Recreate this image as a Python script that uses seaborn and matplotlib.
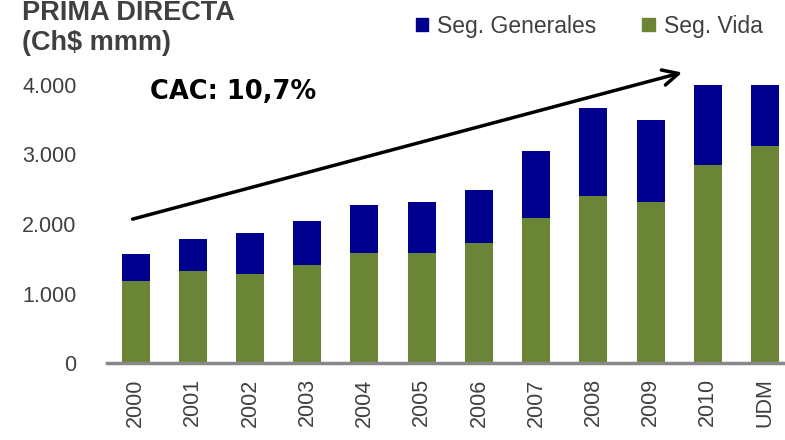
import matplotlib
matplotlib.use('Agg')
import matplotlib.pyplot as plt
import seaborn as sns
import numpy as np
from matplotlib.patches import Patch
from matplotlib.ticker import FuncFormatter

# Data (Ch$ mmm)
years = ['2000', '2001', '2002', '2003', '2004', '2005', '2006',
         '2007', '2008', '2009', '2010', 'UDM']
seg_vida = [1180, 1320, 1280, 1410, 1580, 1580, 1730, 2090, 2400, 2320, 2850, 3120]
seg_generales = [390, 465, 590, 635, 690, 735, 760, 960, 1270, 1180, 1150, 880]

blue = '#00008F'
green = '#6B8536'
text_gray = '#404040'

sns.set_theme(style='white')
plt.rcParams['font.family'] = ['Liberation Sans', 'DejaVu Sans']

fig = plt.figure(figsize=(7.85, 4.4), dpi=100)
ax = fig.add_axes([107 / 785, 77 / 440, 678 / 785, 278 / 440])

totals = np.array(seg_vida) + np.array(seg_generales)

# Stacked bars: total in blue, Vida drawn over it in green
sns.barplot(x=years, y=totals, color=blue, width=0.49, saturation=1,
            linewidth=0, ax=ax)
sns.barplot(x=years, y=seg_vida, color=green, width=0.49, saturation=1,
            linewidth=0, ax=ax)

ax.set_xlim(-0.5, 11.35)
ax.set_ylim(0, 4000)
ax.set_yticks([0, 1000, 2000, 3000, 4000])
ax.yaxis.set_major_formatter(FuncFormatter(lambda v, p: f'{int(v):,}'.replace(',', '.')))
ax.tick_params(axis='y', labelsize=15.5, colors=text_gray, length=0, pad=22)
ax.tick_params(axis='x', labelsize=15.5, colors=text_gray, length=0, pad=11,
               labelrotation=90)
ax.set_xlabel('')
ax.set_ylabel('')

for side in ['top', 'right', 'left']:
    ax.spines[side].set_visible(False)
ax.spines['bottom'].set_color('#888888')
ax.spines['bottom'].set_linewidth(2.5)

# Growth arrow and CAC label
ax.annotate('', xy=(9.6, 4190), xytext=(-0.1, 2060),
            arrowprops=dict(arrowstyle='->', color='black', lw=2.5,
                            mutation_scale=28),
            annotation_clip=False)
ax.text(0.25, 3900, 'CAC: 10,7%', fontsize=18.5, fontweight='bold', color='black',
        family='DejaVu Sans', va='center', ha='left')

# Title
fig.text(22 / 785, 1 - 50 / 440, 'PRIMA DIRECTA\n(Ch$ mmm)', fontsize=19.5,
         fontweight='bold', color=text_gray, ha='left', va='baseline',
         linespacing=1.2)

# Legend
handles = [Patch(color=blue, label='Seg. Generales'),
           Patch(color=green, label='Seg. Vida')]
fig.legend(handles=handles, loc='upper left', bbox_to_anchor=(395 / 785, 1 + 6 / 440),
           ncol=2, frameon=False, fontsize=16.5, handlelength=0.55, handleheight=0.55,
           handletextpad=0.4, columnspacing=2.0, labelcolor=text_gray)

fig.savefig('out.png', dpi=100)
